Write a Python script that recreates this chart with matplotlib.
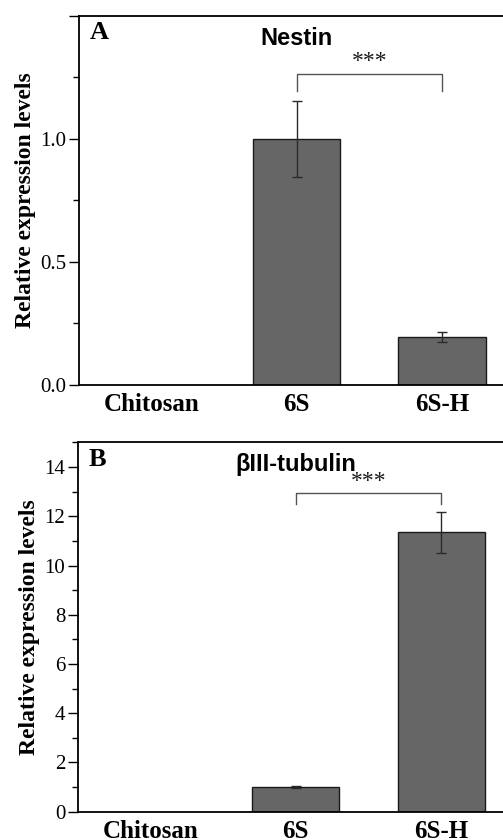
import numpy as np
import matplotlib
matplotlib.use("Agg")
import matplotlib.pyplot as plt
from matplotlib.ticker import MultipleLocator

categories = ["Chitosan", "6S", "6S-H"]

nestin_mean = [0.0, 1.0, 0.195]
nestin_err = [0.0, 0.155, 0.02]

tubulin_mean = [0.0, 1.0, 11.35]
tubulin_err = [0.0, 0.05, 0.83]

SERIF = ["Liberation Serif", "DejaVu Serif"]
SANS = ["Liberation Sans", "DejaVu Sans"]


def draw_panel(ax, means, errs, ylim, major, minor, letter, title, bracket, fmt):
    x = np.arange(1, len(categories) + 1)
    # only draw bars that have a value
    for xi, m, e in zip(x, means, errs):
        if m <= 0:
            continue
        ax.bar(xi, m, width=0.6, color="#666666", edgecolor="#1a1a1a", linewidth=1.0, zorder=2)
        ax.errorbar(xi, m, yerr=e, fmt="none", ecolor="#2a2a2a", elinewidth=1.0,
                    capsize=3.5, capthick=1.0, zorder=3)

    ax.set_xlim(0.5, 3.5)
    ax.set_ylim(*ylim)
    ax.yaxis.set_major_locator(MultipleLocator(major))
    ax.yaxis.set_minor_locator(MultipleLocator(minor))
    # no label on the tick sitting at the very top of the axis
    top = ylim[1]
    ax.yaxis.set_major_formatter(
        plt.FuncFormatter(lambda v, pos: "" if abs(v - top) < 1e-9 else fmt % v))
    ax.set_xticks(x)
    ax.set_xticklabels(categories, fontfamily=SERIF, fontweight="bold", fontsize=18)
    ax.tick_params(axis="x", length=0, pad=6)
    ax.tick_params(axis="y", which="major", direction="out", length=7, width=1.0,
                   labelsize=15, pad=2)
    ax.tick_params(axis="y", which="minor", direction="out", length=4, width=1.0)
    for lab in ax.get_yticklabels():
        lab.set_fontfamily(SERIF)
    for side in ["left", "bottom", "top"]:
        ax.spines[side].set_linewidth(1.3)
    ax.spines["right"].set_visible(False)

    ax.set_ylabel("Relative expression levels", fontfamily=SERIF, fontweight="bold",
                  fontsize=17, labelpad=3)

    ax.text(0.025, 0.985, letter, transform=ax.transAxes, ha="left", va="top",
            fontfamily=SERIF, fontweight="bold", fontsize=19)
    ax.text(2.0, ylim[1] * 0.94, title, ha="center", va="center",
            fontfamily=SANS, fontweight="bold", fontsize=17)

    y_top, y_leg = bracket
    ax.plot([2, 2, 3, 3], [y_leg, y_top, y_top, y_leg], color="#555555", lw=1.0, zorder=3)
    ax.text(2.5, y_top + (ylim[1] - ylim[0]) * 0.003, "***", ha="center", va="bottom",
            fontfamily=SERIF, fontsize=17, color="#1a1a1a")


fig = plt.figure(figsize=(5.03, 8.4), dpi=100)

ax_a = fig.add_axes([0.157, 0.5417, 0.866, 0.4393])
draw_panel(ax_a, nestin_mean, nestin_err, (0, 1.5), 0.5, 0.25, "A", "Nestin",
           (1.266, 1.196), "%.1f")

ax_b = fig.add_axes([0.1545, 0.0337, 0.867, 0.4396])
draw_panel(ax_b, tubulin_mean, tubulin_err, (0, 15), 2, 1, "B", "\u03b2III-tubulin",
           (12.95, 12.49), "%d")

fig.savefig("out.png", dpi=100)
